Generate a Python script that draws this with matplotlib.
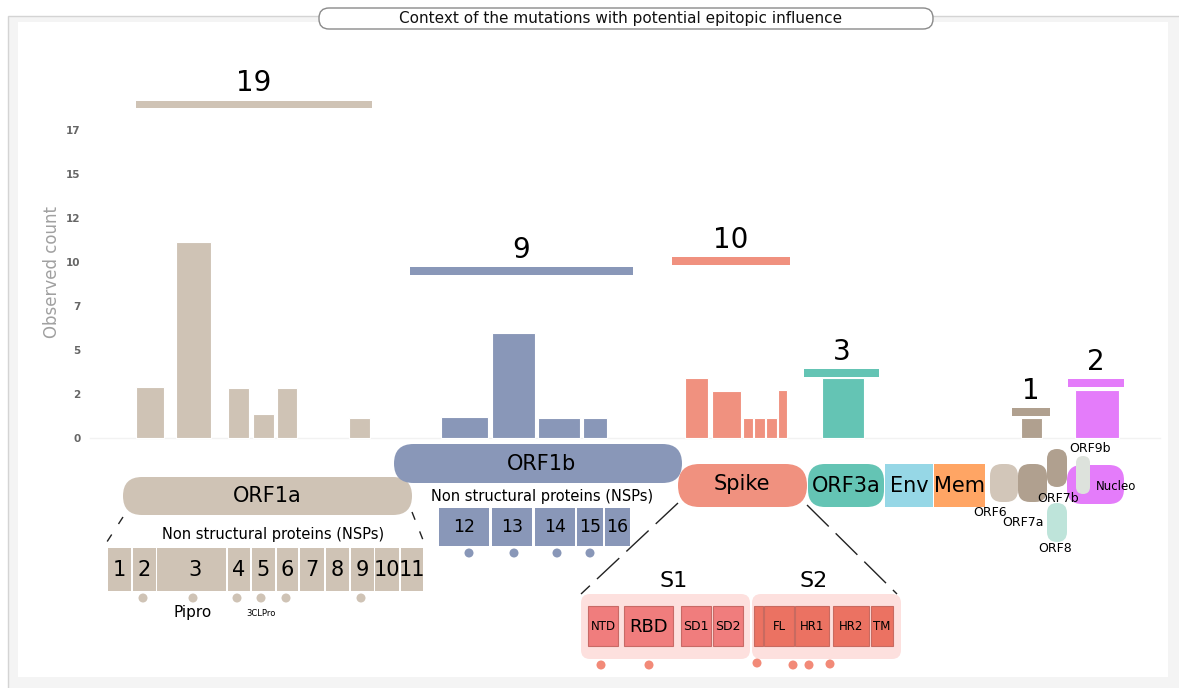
import matplotlib
matplotlib.use('Agg')
import matplotlib.pyplot as plt
from matplotlib.patches import FancyBboxPatch, Rectangle, Circle
import numpy as np

W, H = 1179, 688

# ---------------- data ----------------
region_names = ['ORF1a', 'ORF1b', 'Spike', 'ORF3a', 'ORF7', 'Nucleo']
region_totals = [19, 9, 10, 3, 1, 2]
region_levels = [18.4, 9.2, 9.75, 3.55, 1.4, 3.0]

orf1a_bar_labels = ['nsp2', 'nsp3', 'nsp4', 'nsp5', 'nsp6', 'nsp9']
orf1a_counts = [2.8, 10.8, 2.75, 1.3, 2.75, 1.05]
orf1b_bar_labels = ['nsp12', 'nsp13', 'nsp14', 'nsp15']
orf1b_counts = [1.15, 5.75, 1.1, 1.1]
spike_bar_labels = ['NTD', 'RBD', 'S2a', 'FL', 'HR1', 'HR2']
spike_counts = [3.3, 2.55, 1.1, 1.1, 1.1, 2.65]
orf3a_counts = [3.3]
orf7_counts = [1.05]
nucleo_counts = [2.65]

orf1a_nsps = ['1', '2', '3', '4', '5', '6', '7', '8', '9', '10', '11']
orf1b_nsps = ['12', '13', '14', '15', '16']
s1_domains = ['NTD', 'RBD', 'SD1', 'SD2']
s2_domains = ['', 'FL', 'HR1', 'HR2', 'TM']

ytick_vals = np.linspace(0, 17, 8)
ytick_labels = [str(int(round(v))) for v in ytick_vals]

# ---------------- layout (pixels) ----------------
orf1a_bar_x = [(136, 164), (176, 211), (228, 249), (253, 274), (277, 297), (349, 370)]
orf1b_bar_x = [(441, 488), (492, 535), (538, 580), (583, 607)]
spike_bar_x = [(685, 708), (712, 741), (743, 753), (754, 765), (766, 777), (778, 787)]
orf3a_bar_x = [(822, 864)]
orf7_bar_x = [(1021, 1042)]
nucleo_bar_x = [(1075, 1119)]
header_x = [(136, 372), (410, 633), (672, 790), (804, 879), (1012, 1050), (1068, 1124)]

C_TAN = '#cfc3b5'
C_BLUE = '#8997b8'
C_SPIKE = '#f0917f'
C_TEAL = '#64c4b4'
C_BROWN = '#b0a08f'
C_VIOLET = '#e47cfa'
region_colors = [C_TAN, C_BLUE, C_SPIKE, C_TEAL, C_BROWN, C_VIOLET]

ZERO_PX = 437.5
PX_PER_UNIT = 18.1

fig = plt.figure(figsize=(W / 100, H / 100), dpi=100)
fig.patch.set_facecolor('white')

ax = fig.add_axes([0, 0, 1, 1])
ax.set_xlim(0, W)
ax.set_ylim(H, 0)
ax.axis('off')

# background frame
ax.add_patch(Rectangle((8, 16), W, H, facecolor='#f4f4f4', edgecolor='#d4d4d4', lw=1, zorder=0))
ax.add_patch(Rectangle((18, 22), 1150, 655, facecolor='white', edgecolor='none', zorder=0.5))

# title
ax.add_patch(FancyBboxPatch((319, 8), 614, 21, boxstyle='round,pad=0,rounding_size=10',
                            facecolor='white', edgecolor='#8a8a8a', lw=1, zorder=3))
ax.text(621, 18.5, 'Context of the mutations with potential epitopic influence',
        ha='center', va='center', fontsize=11, color='#111', zorder=4)


def pill(x0, y0, x1, y1, color, r=None, z=2):
    w, h = x1 - x0, y1 - y0
    if r is None:
        r = min(w, h) / 2
    ax.add_patch(FancyBboxPatch((x0, y0), w, h, boxstyle=f'round,pad=0,rounding_size={r}',
                                facecolor=color, edgecolor='none', zorder=z))


def rect(x0, y0, x1, y1, color, ec='none', lw=0, z=2):
    ax.add_patch(Rectangle((x0, y0), x1 - x0, y1 - y0, facecolor=color, edgecolor=ec, lw=lw, zorder=z))


def dot(x, y, color, r=4.5):
    ax.add_patch(Circle((x, y), r, facecolor=color, edgecolor='none', zorder=2))


# ---- ORF1a ----
pill(123, 477, 412, 515, C_TAN)
ax.text(267, 496, 'ORF1a', ha='center', va='center', fontsize=15, zorder=3)
ax.text(273, 534, 'Non structural proteins (NSPs)', ha='center', va='center', fontsize=10.5, zorder=3)
ax.plot([123, 103], [517, 548], color='#222', lw=1, dashes=(6, 9), zorder=3)
ax.plot([412, 425], [512, 545], color='#222', lw=1, dashes=(6, 9), zorder=3)
orf1a_box_x = [(108, 131), (133, 156), (157, 226), (228, 250), (252, 275), (277, 298),
               (300, 324), (326, 349), (351, 374), (375, 399), (401, 423)]
for (x0, x1), lab in zip(orf1a_box_x, orf1a_nsps):
    rect(x0, 548, x1, 591, C_TAN)
    ax.text((x0 + x1) / 2 + (3 if lab == '3' else 0), 570, lab, ha='center', va='center',
            fontsize=15, zorder=3)
for x in [143, 193, 237, 261, 286, 361]:
    dot(x, 598, C_TAN)
ax.text(193, 612, 'Pipro', ha='center', va='center', fontsize=11, zorder=3)
ax.text(261, 614, '3CLPro', ha='center', va='center', fontsize=6, zorder=3)

# ---- ORF1b ----
pill(394, 444, 682, 483, C_BLUE)
ax.text(542, 464, 'ORF1b', ha='center', va='center', fontsize=15, zorder=3)
ax.text(542, 496, 'Non structural proteins (NSPs)', ha='center', va='center', fontsize=10.5, zorder=3)
orf1b_box_x = [(439, 489), (492, 532), (535, 575), (577, 603), (605, 630)]
for (x0, x1), lab in zip(orf1b_box_x, orf1b_nsps):
    rect(x0, 508, x1, 546, C_BLUE)
    ax.text((x0 + x1) / 2, 527, lab, ha='center', va='center', fontsize=12.5, zorder=3)
for x in [469, 514, 557, 590]:
    dot(x, 553, C_BLUE)

# ---- Spike ----
pill(678, 464, 807, 507, C_SPIKE)
ax.text(742, 484, 'Spike', ha='center', va='center', fontsize=15, zorder=3)
ax.plot([678, 581], [503, 594], color='#222', lw=1, dashes=(22, 7), zorder=3)
ax.plot([807, 897], [505, 594], color='#222', lw=1, dashes=(22, 7), zorder=3)
pill(581, 594, 750, 659, '#fde0de', r=9)
pill(752, 594, 901, 659, '#fde0de', r=9)
ax.text(674, 581, 'S1', ha='center', va='center', fontsize=16, zorder=3)
ax.text(814, 581, 'S2', ha='center', va='center', fontsize=16, zorder=3)
s1_box_x = [(588, 618), (624, 673), (681, 711), (713, 743)]
s1_fs = [8.5, 13, 9, 9]
for (x0, x1), lab, fs in zip(s1_box_x, s1_domains, s1_fs):
    rect(x0, 606, x1, 646, '#f07d7d', ec='#c86a66', lw=0.8)
    ax.text((x0 + x1) / 2, 627, lab, ha='center', va='center', fontsize=fs, zorder=3)
s2_box_x = [(754, 763), (764, 794), (795, 829), (833, 869), (871, 893)]
for (x0, x1), lab in zip(s2_box_x, s2_domains):
    rect(x0, 606, x1, 646, '#eb7262', ec='#c86a60', lw=0.8)
    ax.text((x0 + x1) / 2, 627, lab, ha='center', va='center', fontsize=8.5, zorder=3)
for x, y in [(601, 665), (649, 665), (757, 663), (793, 665), (809, 665), (830, 664)]:
    dot(x, y, '#f28a78')

# ---- structural / accessory ----
pill(808, 464, 884, 507, C_TEAL, r=17)
ax.text(846, 486, 'ORF3a', ha='center', va='center', fontsize=15, zorder=3)
rect(885, 464, 933, 507, '#96d7e6')
ax.text(909, 486, 'Env', ha='center', va='center', fontsize=15, zorder=3)
rect(934, 464, 985, 507, '#ffa564')
ax.text(959.5, 486, 'Mem', ha='center', va='center', fontsize=15, zorder=3)
pill(990, 464, 1018, 502, '#d2c6b9', r=12)
pill(1018, 464, 1047, 502, C_BROWN, r=12)
pill(1047, 449, 1067, 487, C_BROWN)
pill(1047, 503, 1067, 542, '#bee4da')
pill(1067, 465, 1124, 504, C_VIOLET, r=15)
pill(1076, 456, 1090, 494, '#dde2dc')
ax.text(990, 512, 'ORF6', ha='center', va='center', fontsize=9, zorder=3)
ax.text(1023, 523, 'ORF7a', ha='center', va='center', fontsize=9, zorder=3)
ax.text(1058, 499, 'ORF7b', ha='center', va='center', fontsize=9, zorder=3)
ax.text(1055, 549, 'ORF8', ha='center', va='center', fontsize=9, zorder=3)
ax.text(1116, 487, 'Nucleo', ha='center', va='center', fontsize=8.5, zorder=3)
ax.text(1090, 449, 'ORF9b', ha='center', va='center', fontsize=9, zorder=3)

# y label
ax.text(52, 272, 'Observed count', rotation=90, ha='center', va='center',
        fontsize=12, color='#a0a0a0', zorder=3)

# ---------------- bar axes ----------------
axb = fig.add_axes([0, 0, 1, 1])
axb.patch.set_visible(False)
axb.set_xlim(0, W)
axb.set_ylim(-(H - ZERO_PX) / PX_PER_UNIT, ZERO_PX / PX_PER_UNIT)
for s in ['top', 'right', 'bottom']:
    axb.spines[s].set_visible(False)
axb.spines['left'].set_position(('data', 86))
axb.spines['left'].set_visible(False)
axb.set_xticks([])
axb.set_yticks(ytick_vals)
axb.set_yticklabels(ytick_labels, fontsize=7.5, color='#666', fontweight='bold')
axb.tick_params(axis='y', length=0, pad=4)
axb.plot([90, 1160], [0, 0], color='#f2f2f2', lw=1, zorder=0)

bar_groups = [
    (orf1a_bar_x, orf1a_counts, C_TAN),
    (orf1b_bar_x, orf1b_counts, C_BLUE),
    (spike_bar_x, spike_counts, C_SPIKE),
    (orf3a_bar_x, orf3a_counts, C_TEAL),
    (orf7_bar_x, orf7_counts, C_BROWN),
    (nucleo_bar_x, nucleo_counts, C_VIOLET),
]
for xs, vals, col in bar_groups:
    centers = [(a + b) / 2 for a, b in xs]
    widths = [b - a for a, b in xs]
    axb.bar(centers, vals, width=widths, color=col, edgecolor='white', linewidth=0.8)

hb = 7.5 / PX_PER_UNIT
for (x0, x1), lvl, tot, col in zip(header_x, region_levels, region_totals, region_colors):
    axb.bar((x0 + x1) / 2, hb, width=x1 - x0, bottom=lvl - hb / 2, color=col, edgecolor='none')
    axb.text((x0 + x1) / 2, lvl + 21 / PX_PER_UNIT, str(tot), ha='center', va='center', fontsize=20)

fig.savefig('out.png', dpi=100)
